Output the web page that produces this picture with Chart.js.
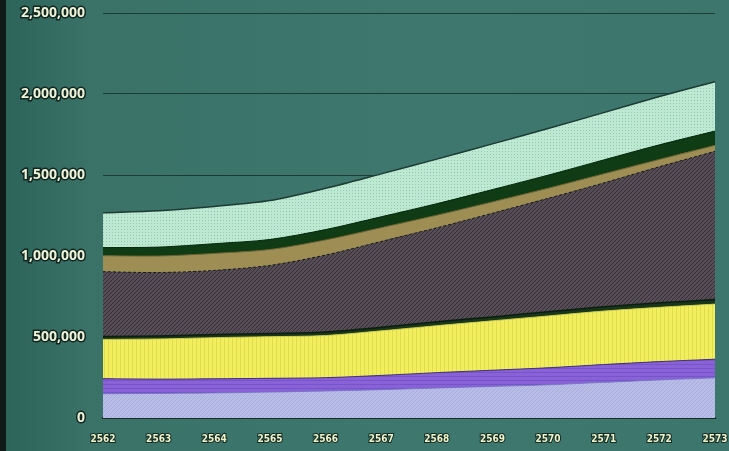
<!DOCTYPE html>
<html>
<head>
<meta charset="utf-8">
<script src="https://cdn.jsdelivr.net/npm/chart.js@4/dist/chart.umd.min.js"></script>
<style>
  html, body { margin: 0; padding: 0; }
  body {
    width: 729px; height: 451px; overflow: hidden; position: relative;
    background: linear-gradient(90deg, #2c6359 0%, #3a7268 12%, #3d776d 55%, #3c766c 100%);
  }
  #edge { position: absolute; left: 0; top: 0; width: 6px; height: 451px; background: #0f1a18; }
  #chart { position: absolute; left: 0; top: 0; }
</style>
</head>
<body>
<div id="edge"></div>
<canvas id="chart" width="729" height="451"></canvas>
<script>
// Years on the x axis (Thai calendar)
const years = ['2562', '2563', '2564', '2565', '2566', '2567', '2568', '2569', '2570', '2571', '2572', '2573'];

// Layer values, bottom to top (stacked)
const lavenderLayer = [150000, 152000, 155000, 160000, 167000, 175000, 185000, 195000, 205000, 220000, 235000, 248000];
const purpleLayer   = [93000, 88000, 87000, 85000, 82000, 88000, 95000, 100000, 105000, 110000, 113000, 115000];
const yellowLayer   = [242000, 248000, 254000, 257000, 260000, 275000, 290000, 305000, 320000, 330000, 335000, 340000];
const thinDarkLayer = [18000, 18000, 20000, 20000, 22000, 22000, 24000, 24000, 26000, 26000, 28000, 28000];
const hatchedLayer  = [400000, 392000, 395000, 420000, 475000, 530000, 580000, 640000, 700000, 765000, 840000, 915000];
const tanLayer      = [99000, 102000, 105000, 98000, 93000, 85000, 78000, 70000, 62000, 56000, 45000, 37000];
const darkGreenLayer = [50000, 55000, 60000, 62000, 64000, 67000, 71000, 76000, 81000, 86000, 90000, 88000];
const mintLayer     = [215000, 225000, 230000, 240000, 255000, 265000, 275000, 282000, 288000, 292000, 298000, 305000];

const yTicks = [0, 500000, 1000000, 1500000, 2000000, 2500000];

const ctx = document.getElementById('chart').getContext('2d');

// Build a small repeating texture for the area fills
function makePattern(base, size, draw) {
    const c = document.createElement('canvas');
    c.width = size;
    c.height = size;
    const g = c.getContext('2d');
    g.fillStyle = base;
    g.fillRect(0, 0, size, size);
    draw(g, size);
    return ctx.createPattern(c, 'repeat');
}

const lavenderFill = makePattern('#b8bde8', 4, (g, s) => {
    g.strokeStyle = 'rgba(150,150,205,0.45)';
    g.beginPath(); g.moveTo(0, s); g.lineTo(s, 0); g.stroke();
});
const purpleFill = makePattern('#8862d6', 4, (g, s) => {
    g.fillStyle = 'rgba(100,70,190,0.5)';
    g.fillRect(0, 0, s, 1);
});
const yellowFill = makePattern('#f2ee5c', 4, (g, s) => {
    g.fillStyle = 'rgba(200,195,70,0.45)';
    g.fillRect(0, 0, 1, s);
});
const hatchedFill = makePattern('#574d57', 4, (g, s) => {
    g.strokeStyle = 'rgba(40,34,42,0.7)';
    g.lineWidth = 1;
    g.beginPath(); g.moveTo(0, s); g.lineTo(s, 0); g.stroke();
});
const mintFill = makePattern('#bde9d3', 3, (g) => {
    g.fillStyle = 'rgba(125,180,155,0.6)';
    g.fillRect(1, 1, 1, 1);
});

function layer(label, data, fill, border, extra) {
    return Object.assign({
        label: label,
        data: data,
        backgroundColor: fill,
        borderColor: border,
        borderWidth: 1,
        fill: label === 'lavender' ? 'origin' : '-1',
        pointRadius: 0,
        tension: 0.3
    }, extra || {});
}

new Chart(ctx, {
    type: 'line',
    data: {
        labels: years,
        datasets: [
            layer('lavender', lavenderLayer, lavenderFill, 'rgba(120,110,200,0.8)'),
            layer('purple', purpleLayer, purpleFill, 'rgba(60,40,120,0.9)'),
            layer('yellow', yellowLayer, yellowFill, 'rgba(210,205,80,0.9)'),
            layer('thin', thinDarkLayer, '#17361b', '#0c1e0f', { borderWidth: 1.5 }),
            layer('hatched', hatchedLayer, hatchedFill, '#1c1a1c', { borderDash: [3, 2] }),
            layer('tan', tanLayer, '#9e8e54', '#6e6235'),
            layer('darkgreen', darkGreenLayer, '#0f3b15', '#0a2a0e'),
            layer('mint', mintLayer, mintFill, '#1d3a33', { borderWidth: 1.5 })
        ]
    },
    options: {
        responsive: false,
        animation: false,
        layout: { padding: { left: 5, right: 14, top: 13, bottom: 5 } },
        plugins: {
            legend: { display: false },
            tooltip: { enabled: false }
        },
        scales: {
            x: {
                grid: { display: false, drawTicks: false },
                border: { display: true, color: '#1a2e29', width: 2 },
                ticks: {
                    color: '#f1f3c8',
                    font: { family: '"DejaVu Sans Condensed", "DejaVu Sans"', size: 10, weight: 'bold' },
                    padding: 15,
                    maxRotation: 0,
                    autoSkip: false,
                    textStrokeColor: 'rgba(15,35,30,0.9)',
                    textStrokeWidth: 2
                },
                afterFit: function(scale) {
                    scale.height = 28;
                    scale.paddingLeft = 0;
                    scale.paddingRight = 0;
                }
            },
            y: {
                stacked: true,
                min: 0,
                max: 2500000,
                afterBuildTicks: function(scale) {
                    scale.ticks = yTicks.map(v => ({ value: v }));
                },
                grid: { color: 'rgba(22,50,44,0.85)', lineWidth: 1, drawTicks: false },
                border: { display: false },
                ticks: {
                    color: '#eef2d6',
                    font: { family: '"Open Sans"', size: 14, weight: 'bold' },
                    padding: 18,
                    textStrokeColor: 'rgba(15,35,30,0.95)',
                    textStrokeWidth: 3,
                    callback: function(v) { return v.toLocaleString('en-US'); }
                },
                afterFit: function(scale) {
                    scale.width = 98;
                    scale.paddingTop = 0;
                    scale.paddingBottom = 0;
                }
            }
        }
    }
});
</script>
</body>
</html>
